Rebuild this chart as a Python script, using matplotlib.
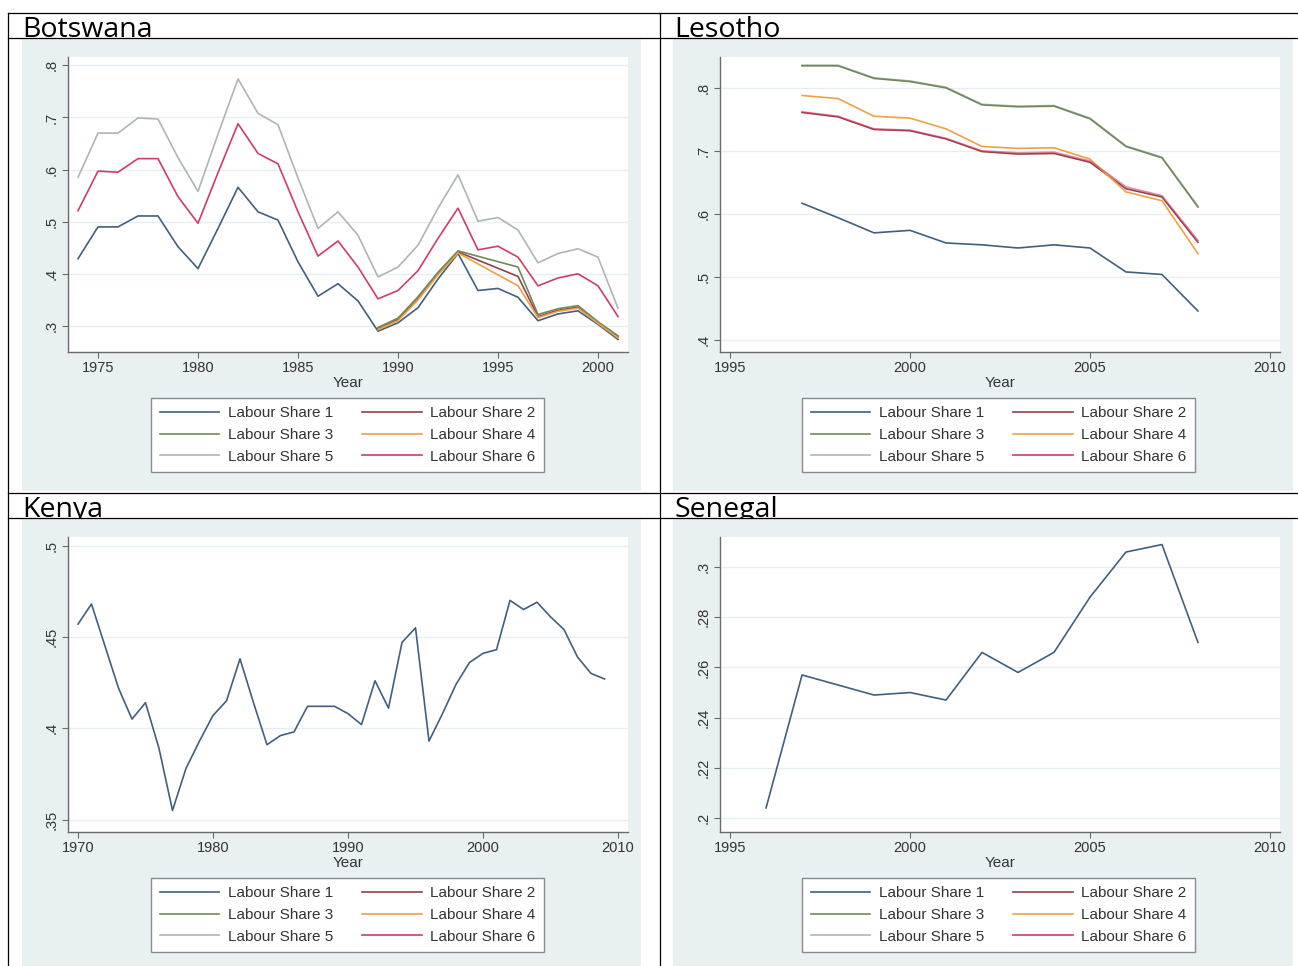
import matplotlib
matplotlib.use("Agg")
import matplotlib.pyplot as plt
from matplotlib.lines import Line2D
from matplotlib.patches import Rectangle

# * Data

labels = ["Labour Share 1", "Labour Share 2", "Labour Share 3",
          "Labour Share 4", "Labour Share 5", "Labour Share 6"]

# Botswana
bw_years = list(range(1974, 2002))
bw_share1 = [0.429, 0.490, 0.490, 0.511, 0.511, 0.452, 0.410, 0.487, 0.566, 0.519,
             0.503, 0.423, 0.357, 0.381, 0.348, 0.290, 0.306, 0.335, 0.390, 0.439,
             0.368, 0.372, 0.355, 0.310, 0.323, 0.329, 0.303, 0.274]
bw_share5 = [0.585, 0.670, 0.670, 0.699, 0.697, 0.623, 0.558, 0.668, 0.774, 0.708,
             0.686, 0.584, 0.487, 0.519, 0.474, 0.394, 0.413, 0.455, 0.526, 0.590,
             0.501, 0.508, 0.484, 0.421, 0.439, 0.448, 0.432, 0.334]
bw_share6 = [0.521, 0.597, 0.595, 0.621, 0.621, 0.548, 0.497, 0.594, 0.688, 0.631,
             0.611, 0.519, 0.434, 0.463, 0.413, 0.352, 0.368, 0.406, 0.468, 0.526,
             0.446, 0.453, 0.432, 0.377, 0.392, 0.400, 0.377, 0.318]
# shares 2-4 only exist for some years (Stata connects over the gaps)
bw_years_sub = [1989, 1990, 1991, 1992, 1993, 1996, 1997, 1998, 1999, 2000, 2001]
bw_share2 = [0.295, 0.312, 0.352, 0.400, 0.442, 0.395, 0.318, 0.330, 0.336, 0.306, 0.279]
bw_share3 = [0.297, 0.315, 0.356, 0.403, 0.444, 0.413, 0.322, 0.333, 0.339, 0.308, 0.281]
bw_share4 = [0.293, 0.310, 0.350, 0.398, 0.440, 0.377, 0.316, 0.328, 0.334, 0.305, 0.277]

# Lesotho
ls_years = list(range(1997, 2009))
ls_share1 = [0.617, 0.594, 0.570, 0.574, 0.554, 0.551, 0.546, 0.551, 0.546, 0.508, 0.504, 0.446]
ls_share2 = [0.761, 0.754, 0.734, 0.732, 0.719, 0.699, 0.695, 0.696, 0.682, 0.640, 0.627, 0.555]
ls_share3 = [0.835, 0.835, 0.815, 0.810, 0.800, 0.773, 0.770, 0.771, 0.751, 0.707, 0.689, 0.611]
ls_share4 = [0.788, 0.783, 0.755, 0.752, 0.735, 0.707, 0.704, 0.705, 0.687, 0.635, 0.621, 0.537]
ls_share5 = [0.836, 0.836, 0.816, 0.811, 0.801, 0.774, 0.771, 0.772, 0.752, 0.708, 0.690, 0.612]
ls_share6 = [0.762, 0.755, 0.735, 0.733, 0.720, 0.700, 0.697, 0.698, 0.684, 0.643, 0.629, 0.558]

# Kenya
ke_years = list(range(1970, 2010))
ke_share1 = [0.457, 0.468, 0.445, 0.422, 0.405, 0.414, 0.389, 0.355, 0.378, 0.393,
             0.407, 0.415, 0.438, 0.414, 0.391, 0.396, 0.398, 0.412, 0.412, 0.412,
             0.408, 0.402, 0.426, 0.411, 0.447, 0.455, 0.393, 0.408, 0.424, 0.436,
             0.441, 0.443, 0.470, 0.465, 0.469, 0.461, 0.454, 0.439, 0.430, 0.427]

# Senegal
sn_years = list(range(1996, 2009))
sn_share1 = [0.204, 0.257, 0.253, 0.249, 0.250, 0.247, 0.266, 0.258, 0.266, 0.288,
             0.306, 0.309, 0.270]

# * Style

W, H = 1298, 966
BG = "#E9F0F2"
COLORS = ["#41607f", "#94404b", "#71895a", "#efa143", "#adb6b2", "#d23c64"]
LW = 1.2
TICKFONT = "Liberation Sans"

fig = plt.figure(figsize=(W / 100, H / 100), dpi=100)
fig.patch.set_facecolor("white")


def fbox(x0, y0, x1, y1):
    """Pixel box (top-left origin) -> figure fraction [l, b, w, h]."""
    return [x0 / W, 1 - y1 / H, (x1 - x0) / W, (y1 - y0) / H]


def hline(y, x0=8, x1=W):
    fig.add_artist(Line2D([x0 / W, x1 / W], [1 - y / H, 1 - y / H],
                          color="black", lw=0.9, zorder=10))


def vline(x, y0=13, y1=H):
    fig.add_artist(Line2D([x / W, x / W], [1 - y0 / H, 1 - y1 / H],
                          color="black", lw=0.9, zorder=10))


def fmt(v):
    s = "{:.2f}".format(v).rstrip("0").rstrip(".")
    return s[1:] if s.startswith("0") else s


def make_panel(box, xlim, ylim, xticks, yticks):
    ax = fig.add_axes(fbox(*box))
    ax.set_facecolor("white")
    ax.set_xlim(*xlim)
    ax.set_ylim(*ylim)
    ax.set_xticks(xticks)
    ax.set_xticklabels([str(t) for t in xticks], fontsize=10.5,
                       family=TICKFONT, color="#333333")
    ax.set_yticks(yticks)
    ax.set_yticklabels([fmt(t) for t in yticks], fontsize=10.5,
                       family=TICKFONT, color="#333333",
                       rotation=90, va="center")
    for s in ["top", "right"]:
        ax.spines[s].set_visible(False)
    for s in ["left", "bottom"]:
        ax.spines[s].set_color("#6a6a6a")
        ax.spines[s].set_linewidth(1.0)
    ax.tick_params(axis="both", direction="out", length=4, width=0.8,
                   color="#6a6a6a")
    ax.tick_params(axis="y", pad=3)
    ax.tick_params(axis="x", pad=2.5)
    ax.grid(axis="y", color="#E6EEF0", lw=1.0)
    ax.set_axisbelow(True)
    ax.set_xlabel("Year", fontsize=11, family=TICKFONT, color="#333333",
                  labelpad=1)
    return ax


# legend fills column-first, so order handles to read row-wise 1 2 / 3 4 / 5 6
order = [0, 2, 4, 1, 3, 5]
legend_handles = [Line2D([], [], color=COLORS[i], lw=LW) for i in order]
legend_labels = [labels[i] for i in order]


def add_legend(ax, cx, top):
    ax.legend(legend_handles, legend_labels, ncol=2, loc="upper center",
              bbox_to_anchor=(cx / W, 1 - top / H),
              bbox_transform=fig.transFigure,
              prop={"family": TICKFONT, "size": 11},
              frameon=True, fancybox=False, edgecolor="#8a8a8a",
              facecolor="white", framealpha=1.0,
              handlelength=3.9, handletextpad=0.55, columnspacing=1.9,
              labelspacing=0.5, borderpad=0.55, borderaxespad=0)
    leg = ax.get_legend()
    leg.get_frame().set_linewidth(1.0)
    for t in leg.get_texts():
        t.set_color("#333333")


# * Table frame, titles and panel backgrounds

titles = [("Botswana", 22, 37), ("Lesotho", 674, 37),
          ("Kenya", 22, 517), ("Senegal", 674, 517)]
for name, x, y in titles:
    fig.text(x / W, 1 - y / H, name, family="Open Sans", fontsize=20.5,
             ha="left", va="baseline", zorder=-2)

for (x0, y0, x1, y1) in [(22, 39, 641, 491), (673, 39, 1293, 491),
                         (22, 519, 641, H), (673, 519, 1293, H)]:
    fig.add_artist(Rectangle((x0 / W, 1 - y1 / H), (x1 - x0) / W, (y1 - y0) / H,
                             transform=fig.transFigure, facecolor=BG,
                             edgecolor="none", zorder=-1))

for y in [13, 38, 493, 518]:
    hline(y)
vline(8)
vline(660)

# * Botswana

ax = make_panel((68, 57, 628, 352), (1973.5, 2001.5), (0.250, 0.816),
                [1975, 1980, 1985, 1990, 1995, 2000], [0.3, 0.4, 0.5, 0.6, 0.7, 0.8])
ax.plot(bw_years, bw_share1, color=COLORS[0], lw=LW)
ax.plot(bw_years_sub, bw_share2, color=COLORS[1], lw=LW)
ax.plot(bw_years_sub, bw_share3, color=COLORS[2], lw=LW)
ax.plot(bw_years_sub, bw_share4, color=COLORS[3], lw=LW)
ax.plot(bw_years, bw_share5, color=COLORS[4], lw=LW)
ax.plot(bw_years, bw_share6, color=COLORS[5], lw=LW)
add_legend(ax, 347.5, 398)

# * Lesotho

ax = make_panel((720, 57, 1280, 352), (1994.72, 2010.28), (0.381, 0.849),
                [1995, 2000, 2005, 2010], [0.4, 0.5, 0.6, 0.7, 0.8])
ax.plot(ls_years, ls_share1, color=COLORS[0], lw=LW)
ax.plot(ls_years, ls_share2, color=COLORS[1], lw=LW)
ax.plot(ls_years, ls_share5, color=COLORS[4], lw=LW, zorder=1.9)
ax.plot(ls_years, ls_share3, color=COLORS[2], lw=LW)
ax.plot(ls_years, ls_share4, color=COLORS[3], lw=LW)
ax.plot(ls_years, ls_share6, color=COLORS[5], lw=LW, alpha=0.6)
add_legend(ax, 998.5, 398)

# * Kenya

ax = make_panel((68, 537, 628, 832), (1969.26, 2010.74), (0.3432, 0.5047),
                [1970, 1980, 1990, 2000, 2010], [0.35, 0.4, 0.45, 0.5])
ax.plot(ke_years, ke_share1, color=COLORS[0], lw=LW)
add_legend(ax, 347.5, 878)

# * Senegal

ax = make_panel((720, 537, 1280, 832), (1994.72, 2010.28), (0.1944, 0.312),
                [1995, 2000, 2005, 2010], [0.2, 0.22, 0.24, 0.26, 0.28, 0.3])
ax.plot(sn_years, sn_share1, color=COLORS[0], lw=LW)
add_legend(ax, 998.5, 878)

plt.savefig("out.png", dpi=100)
